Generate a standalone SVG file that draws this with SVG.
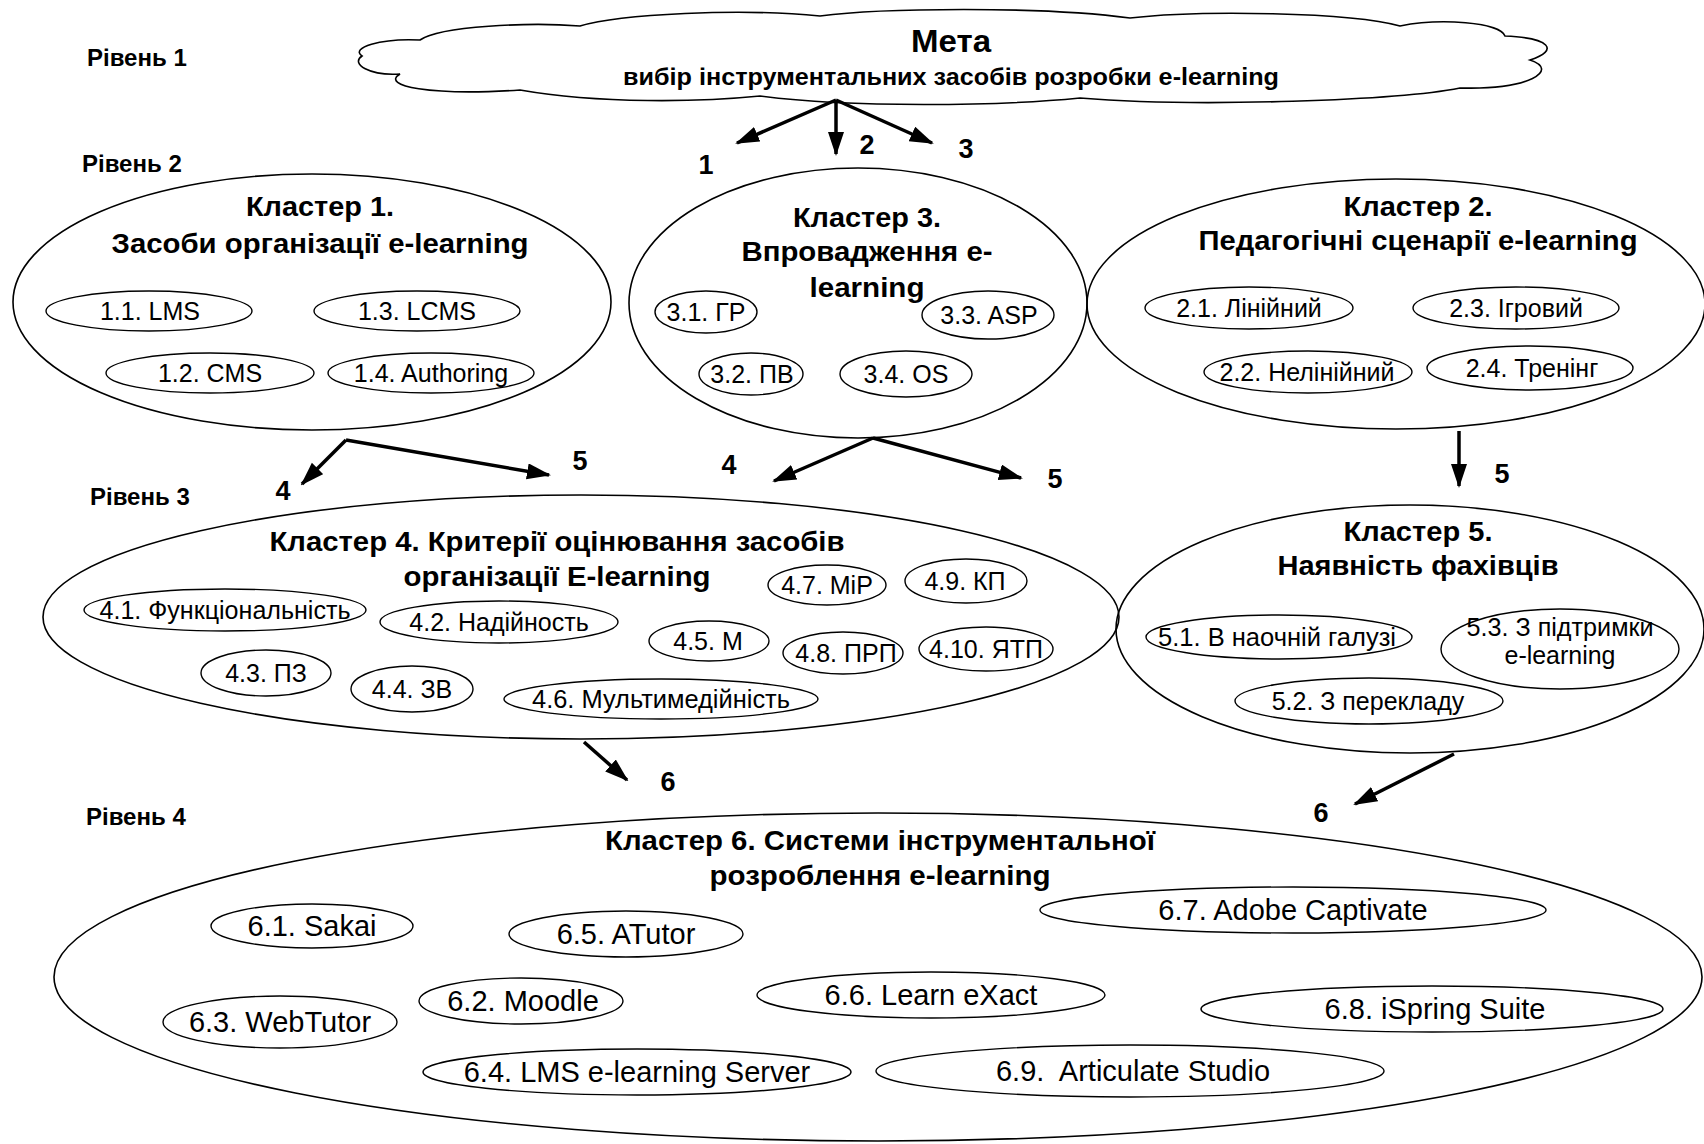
<svg xmlns="http://www.w3.org/2000/svg" width="1704" height="1144" viewBox="0 0 1704 1144">
<defs>
<style>
.big{fill:none;stroke:#000;stroke-width:1.6}
.sub{fill:none;stroke:#000;stroke-width:1.4}
text{font-family:"Liberation Sans",Arial,sans-serif;fill:#000;text-anchor:middle}
.ttl{font-weight:bold;font-size:28px}
.itm{font-size:25px}
.itm6{font-size:29px}
.lvl{font-weight:bold;font-size:24px;text-anchor:start}
.num{font-weight:bold;font-size:27px}
.conn{stroke:#000;stroke-width:3.5;fill:none;marker-end:url(#ah)}
</style>
<marker id="ah" markerUnits="userSpaceOnUse" markerWidth="24" markerHeight="18" refX="22" refY="8" orient="auto">
<path d="M0,0 L24,8 L0,16 Z" fill="#000"/>
</marker>
</defs>
<rect width="1704" height="1144" fill="#fff"/>

<g id="levels">
<text class="lvl" x="87" y="66">Рівень 1</text>
<text class="lvl" x="82" y="172">Рівень 2</text>
<text class="lvl" x="90" y="505">Рівень 3</text>
<text class="lvl" x="86" y="825">Рівень 4</text>
</g>

<g id="goal">
<path class="big" d="M420,40 C380,38 350,48 362,56 C350,64 370,76 400,74 C380,86 430,96 520,90 C600,104 700,102 760,96 C850,108 1000,106 1080,98 C1200,108 1400,100 1460,88 C1530,90 1560,70 1530,60 C1560,50 1550,38 1505,36 C1500,22 1440,18 1400,26 C1350,12 1200,10 1130,18 C1040,6 880,8 820,16 C740,8 620,14 580,26 C530,22 440,26 420,40 Z"/>
<text x="951" y="52" style="font-weight:bold;font-size:32px" textLength="80" lengthAdjust="spacingAndGlyphs">Мета</text>
<text x="951" y="85" style="font-weight:bold;font-size:23px" textLength="656" lengthAdjust="spacingAndGlyphs">вибір інструментальних засобів розробки e-learning</text>
</g>

<g id="cluster1">
<ellipse class="big" cx="312" cy="302" rx="299" ry="128"/>
<text class="ttl" x="320" y="216" textLength="148" lengthAdjust="spacingAndGlyphs">Кластер 1.</text>
<text class="ttl" x="320" y="253" textLength="417" lengthAdjust="spacingAndGlyphs">Засоби організації e-learning</text>
<ellipse class="sub" cx="149" cy="311" rx="103" ry="20"/>
<text class="itm" x="150" y="320">1.1. LMS</text>
<ellipse class="sub" cx="417" cy="311" rx="103" ry="20"/>
<text class="itm" x="417" y="320">1.3. LCMS</text>
<ellipse class="sub" cx="210" cy="373" rx="104" ry="20"/>
<text class="itm" x="210" y="382">1.2. CMS</text>
<ellipse class="sub" cx="431" cy="373" rx="103" ry="20"/>
<text class="itm" x="431" y="382">1.4. Authoring</text>
</g>

<g id="cluster3">
<ellipse class="big" cx="858" cy="303" rx="229" ry="135"/>
<text class="ttl" x="867" y="227" textLength="148" lengthAdjust="spacingAndGlyphs">Кластер 3.</text>
<text class="ttl" x="867" y="261" textLength="251" lengthAdjust="spacingAndGlyphs">Впровадження e-</text>
<text class="ttl" x="867" y="297" textLength="115" lengthAdjust="spacingAndGlyphs">learning</text>
<ellipse class="sub" cx="706" cy="312" rx="51" ry="21"/>
<text class="itm" x="706" y="321">3.1. ГР</text>
<ellipse class="sub" cx="988" cy="315" rx="66" ry="24"/>
<text class="itm" x="989" y="324">3.3. ASP</text>
<ellipse class="sub" cx="751" cy="374" rx="52" ry="21"/>
<text class="itm" x="752" y="383">3.2. ПВ</text>
<ellipse class="sub" cx="906" cy="374" rx="66" ry="23"/>
<text class="itm" x="906" y="383">3.4. OS</text>
</g>

<g id="cluster2">
<ellipse class="big" cx="1396" cy="304" rx="309" ry="125"/>
<text class="ttl" x="1418" y="216" textLength="149" lengthAdjust="spacingAndGlyphs">Кластер 2.</text>
<text class="ttl" x="1418" y="250" textLength="439" lengthAdjust="spacingAndGlyphs">Педагогічні сценарії e-learning</text>
<ellipse class="sub" cx="1249" cy="308" rx="104" ry="21"/>
<text class="itm" x="1249" y="317">2.1. Лінійний</text>
<ellipse class="sub" cx="1516" cy="308" rx="103" ry="21"/>
<text class="itm" x="1516" y="317">2.3. Ігровий</text>
<ellipse class="sub" cx="1308" cy="372" rx="104" ry="21"/>
<text class="itm" x="1307" y="381">2.2. Нелінійний</text>
<ellipse class="sub" cx="1530" cy="368" rx="103" ry="22"/>
<text class="itm" x="1532" y="377">2.4. Тренінг</text>
</g>

<g id="cluster4">
<ellipse class="big" cx="581" cy="617" rx="538" ry="122"/>
<text class="ttl" x="557" y="551" textLength="575" lengthAdjust="spacingAndGlyphs">Кластер 4. Критерії оцінювання засобів</text>
<text class="ttl" x="557" y="586" textLength="307" lengthAdjust="spacingAndGlyphs">організації E-learning</text>
<ellipse class="sub" cx="225" cy="610" rx="141" ry="21"/>
<text class="itm" x="225" y="619" textLength="251" lengthAdjust="spacingAndGlyphs">4.1. Функціональність</text>
<ellipse class="sub" cx="499" cy="622" rx="119" ry="21"/>
<text class="itm" x="499" y="631">4.2. Надійность</text>
<ellipse class="sub" cx="266" cy="673" rx="65" ry="23"/>
<text class="itm" x="266" y="682">4.3. ПЗ</text>
<ellipse class="sub" cx="412" cy="689" rx="61" ry="23"/>
<text class="itm" x="412" y="698">4.4. ЗВ</text>
<ellipse class="sub" cx="709" cy="641" rx="60" ry="20"/>
<text class="itm" x="708" y="650">4.5. М</text>
<ellipse class="sub" cx="661" cy="699" rx="157" ry="20"/>
<text class="itm" x="661" y="708" textLength="258" lengthAdjust="spacingAndGlyphs">4.6. Мультимедійність</text>
<ellipse class="sub" cx="827" cy="585" rx="59" ry="20"/>
<text class="itm" x="827" y="594">4.7. МіР</text>
<ellipse class="sub" cx="843" cy="653" rx="60" ry="21"/>
<text class="itm" x="846" y="662">4.8. ПРП</text>
<ellipse class="sub" cx="966" cy="581" rx="61" ry="22"/>
<text class="itm" x="965" y="590">4.9. КП</text>
<ellipse class="sub" cx="986" cy="649" rx="67" ry="22"/>
<text class="itm" x="986" y="658">4.10. ЯТП</text>
</g>

<g id="cluster5">
<ellipse class="big" cx="1410" cy="629" rx="294" ry="124"/>
<text class="ttl" x="1418" y="541" textLength="149" lengthAdjust="spacingAndGlyphs">Кластер 5.</text>
<text class="ttl" x="1418" y="575" textLength="281" lengthAdjust="spacingAndGlyphs">Наявність фахівців</text>
<ellipse class="sub" cx="1279" cy="637" rx="133" ry="22"/>
<text class="itm" x="1277" y="646" textLength="238" lengthAdjust="spacingAndGlyphs">5.1. В наочній галузі</text>
<ellipse class="sub" cx="1560" cy="649" rx="119" ry="40"/>
<text class="itm" x="1560" y="636" textLength="187" lengthAdjust="spacingAndGlyphs">5.3. З підтримки</text>
<text class="itm" x="1560" y="664" textLength="111" lengthAdjust="spacingAndGlyphs">e-learning</text>
<ellipse class="sub" cx="1369" cy="701" rx="134" ry="23"/>
<text class="itm" x="1368" y="710">5.2. З перекладу</text>
</g>

<g id="cluster6">
<ellipse class="big" cx="878" cy="977" rx="824" ry="164"/>
<text class="ttl" x="880" y="850" textLength="550" lengthAdjust="spacingAndGlyphs">Кластер 6. Системи інструментальної</text>
<text class="ttl" x="880" y="885" textLength="341" lengthAdjust="spacingAndGlyphs">розроблення e-learning</text>
<ellipse class="sub" cx="312" cy="926" rx="101" ry="22"/>
<text class="itm6" x="312" y="936">6.1. Sakai</text>
<ellipse class="sub" cx="626" cy="934" rx="117" ry="23"/>
<text class="itm6" x="626" y="944">6.5. ATutor</text>
<ellipse class="sub" cx="1293" cy="910" rx="253" ry="23"/>
<text class="itm6" x="1293" y="920">6.7. Adobe Captivate</text>
<ellipse class="sub" cx="521" cy="1001" rx="102" ry="23"/>
<text class="itm6" x="523" y="1011">6.2. Moodle</text>
<ellipse class="sub" cx="931" cy="995" rx="174" ry="23"/>
<text class="itm6" x="931" y="1005">6.6. Learn eXact</text>
<ellipse class="sub" cx="280" cy="1022" rx="117" ry="26"/>
<text class="itm6" x="280" y="1032">6.3. WebTutor</text>
<ellipse class="sub" cx="1432" cy="1009" rx="231" ry="23"/>
<text class="itm6" x="1435" y="1019">6.8. iSpring Suite</text>
<ellipse class="sub" cx="637" cy="1072" rx="214" ry="23"/>
<text class="itm6" x="637" y="1082">6.4. LMS e-learning Server</text>
<ellipse class="sub" cx="1130" cy="1071" rx="254" ry="26"/>
<text class="itm6" x="1133" y="1081" xml:space="preserve">6.9.  Articulate Studio</text>
</g>

<g id="connectors">
<line class="conn" x1="836" y1="100" x2="737" y2="143"/>
<line class="conn" x1="836" y1="100" x2="836" y2="154"/>
<line class="conn" x1="836" y1="100" x2="932" y2="143"/>
<line class="conn" x1="346" y1="440" x2="302" y2="484"/>
<line class="conn" x1="346" y1="440" x2="549" y2="475"/>
<line class="conn" x1="873" y1="438" x2="774" y2="481"/>
<line class="conn" x1="873" y1="438" x2="1021" y2="478"/>
<line class="conn" x1="1459" y1="431" x2="1459" y2="486"/>
<line class="conn" x1="584" y1="742" x2="627" y2="780"/>
<line class="conn" x1="1454" y1="754" x2="1355" y2="804"/>
<text class="num" x="706" y="174">1</text>
<text class="num" x="867" y="154">2</text>
<text class="num" x="966" y="158">3</text>
<text class="num" x="283" y="500">4</text>
<text class="num" x="580" y="470">5</text>
<text class="num" x="729" y="474">4</text>
<text class="num" x="1055" y="488">5</text>
<text class="num" x="1502" y="483">5</text>
<text class="num" x="668" y="791">6</text>
<text class="num" x="1321" y="822">6</text>
</g>
</svg>
